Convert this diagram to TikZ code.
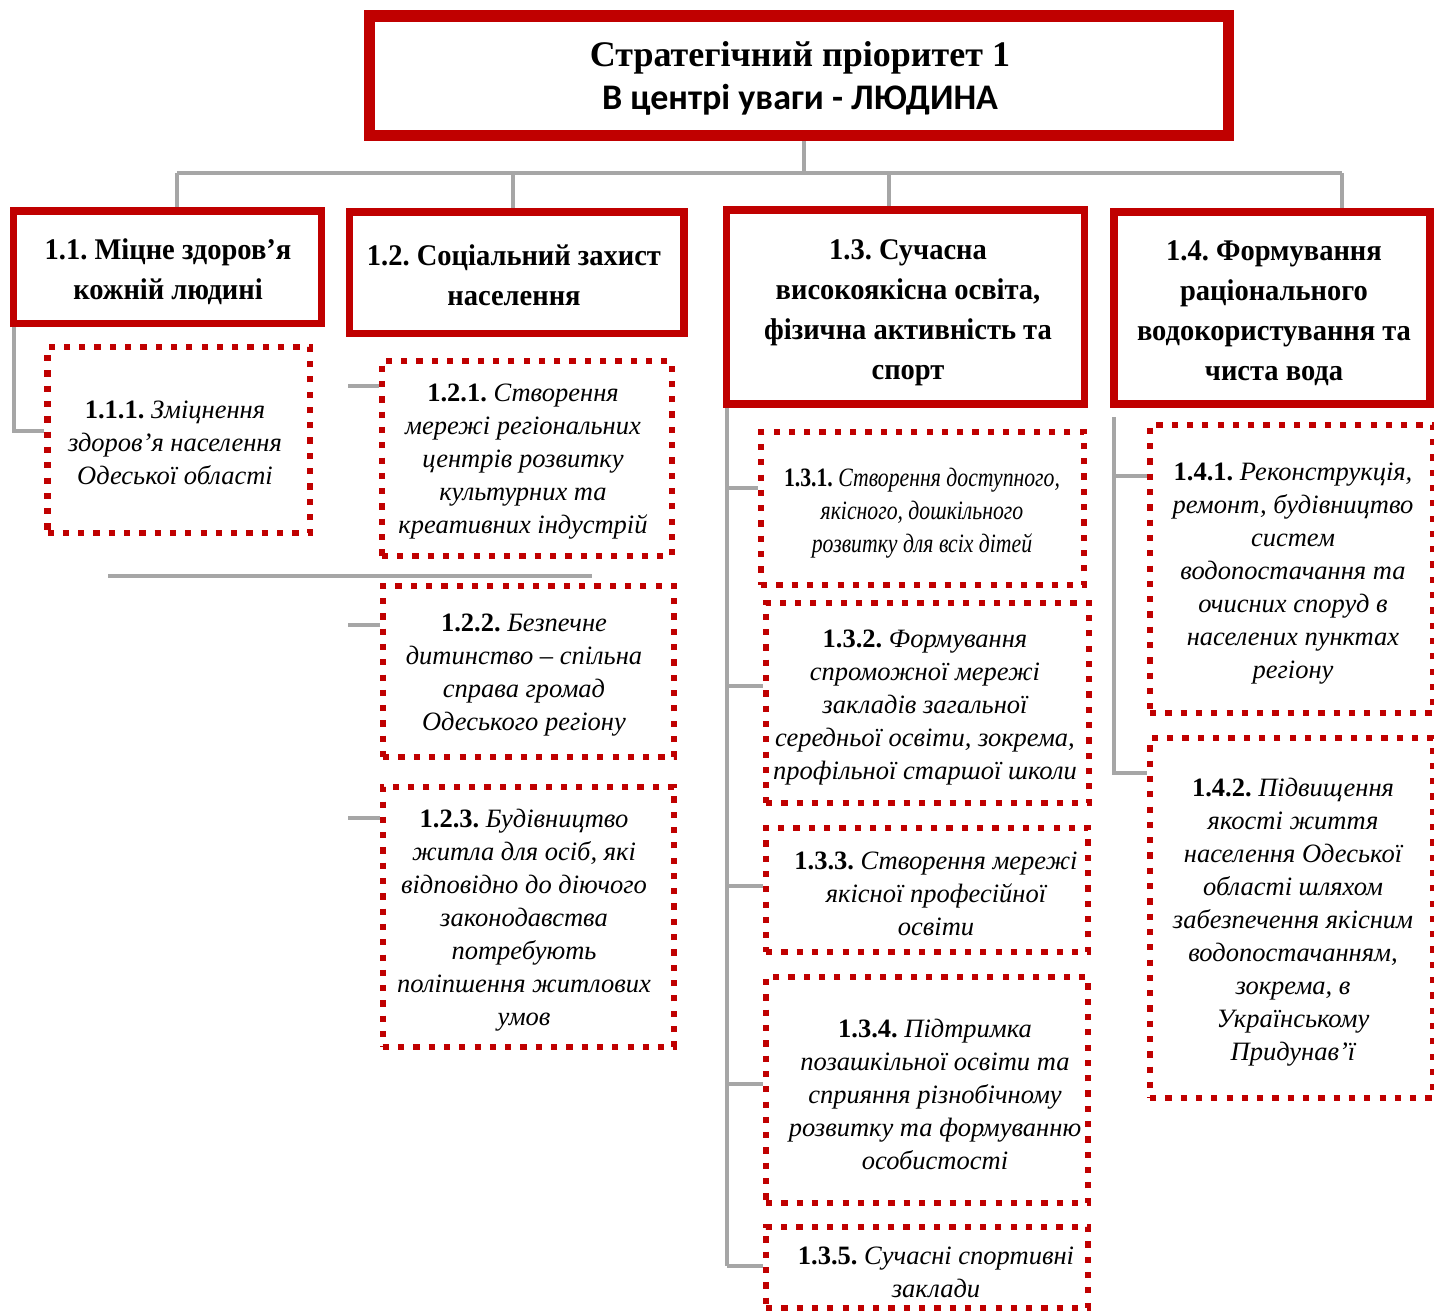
\documentclass[tikz,border=0pt]{standalone}
\usepackage{fontspec}
\setmainfont{Liberation Serif}
\newfontfamily\titlesans{Carlito}
\newfontfamily\headserif[FakeStretch=0.95]{Liberation Serif}
\newfontfamily\condserif[FakeStretch=0.82]{Liberation Serif}
\definecolor{dred}{HTML}{C00000}
\definecolor{lgray}{HTML}{A6A6A6}
\newcommand\nm[1]{{\upshape\bfseries #1}}
\frenchspacing
\begin{document}
\begin{tikzpicture}[x=1pt,y=-1pt,
  hbox/.style={draw=dred, line width=7.5pt, inner sep=0pt},
  topbox/.style={draw=dred, line width=11.5pt, inner sep=0pt},
  dbox/.style={draw=dred, line width=6.2pt, dash pattern=on 6.2pt off 9.1pt, inner sep=0pt},
  conn/.style={draw=lgray, line width=3.5pt},
  htxt/.style={align=center, font=\headserif\bfseries\fontsize{30}{40}\selectfont\frenchspacing, inner sep=0pt},
  dtxt/.style={align=center, font=\itshape\fontsize{26.5}{33}\selectfont\frenchspacing, inner sep=0pt}]
\useasboundingbox (0,0) rectangle (1434,1312);

% heading boxes
\node[topbox, minimum width=859pt, minimum height=119.5pt] (top) at (799,75.75) {};
\node[hbox, minimum width=308pt, minimum height=112.5pt] (b11) at (167.5,267.25) {};
\node[hbox, minimum width=334.5pt, minimum height=121.5pt] (b12) at (516.75,272.75) {};
\node[hbox, minimum width=358pt, minimum height=194pt] (b13) at (905.5,307) {};
\node[hbox, minimum width=316pt, minimum height=192pt] (b14) at (1272,308) {};

% dotted boxes
\node[dbox, minimum width=262.5pt, minimum height=186pt] (b111) at (178.75,440) {};
\node[dbox, minimum width=290pt, minimum height=195.3pt] (b121) at (526.7,458.35) {};
\node[dbox, minimum width=291pt, minimum height=171pt] (b122) at (528.5,671.5) {};
\node[dbox, minimum width=291.3pt, minimum height=259.7pt] (b123) at (528.35,916.85) {};
\node[dbox, minimum width=323pt, minimum height=153pt] (b131) at (922.5,508.5) {};
\node[dbox, minimum width=323pt, minimum height=200pt] (b132) at (927.5,703) {};
\node[dbox, minimum width=322pt, minimum height=124pt] (b133) at (927,890) {};
\node[dbox, minimum width=322pt, minimum height=226pt] (b134) at (927,1090) {};
\node[dbox, minimum width=322pt, minimum height=81pt] (b135) at (927,1267.5) {};
\node[dbox, minimum width=283pt, minimum height=288pt] (b141) at (1291.5,569) {};
\node[dbox, minimum width=283pt, minimum height=360pt] (b142) at (1291.5,918) {};

% texts
\node[align=center, inner sep=0pt] (ttop) at (800,78)
  {{\bfseries\fontsize{36}{43}\selectfont Стратегічний пріоритет 1}\\[9pt]
   {\titlesans\bfseries\fontsize{36}{41}\selectfont В центрі уваги - ЛЮДИНА}};
\node[htxt] (t11) at (168,272) {1.1. Міцне здоров’я\\кожній людині};
\node[htxt] (t12) at (514,275) {1.2. Соціальний захист\\населення};
\node[htxt] (t13) at (908,313) {1.3. Сучасна\\високоякісна освіта,\\фізична активність та\\спорт};
\node[htxt] (t14) at (1274,313) {1.4. Формування\\раціонального\\водокористування та\\чиста вода};

\node[dtxt] (t111) at (175,443) {\nm{1.1.1.} Зміцнення\\здоров’я населення\\Одеської області};
\node[dtxt] (t121) at (523,462) {\nm{1.2.1.} Створення\\мережі регіональних\\центрів розвитку\\культурних та\\креативних індустрій};
\node[dtxt] (t122) at (524,675) {\nm{1.2.2.} Безпечне\\дитинство – спільна\\справа громад\\Одеського регіону};
\node[dtxt] (t123) at (524,920) {\nm{1.2.3.} Будівництво\\житла для осіб, які\\відповідно до діючого\\законодавства\\потребують\\поліпшення житлових\\умов};
\node[dtxt, font=\condserif\itshape\fontsize{26.5}{33}\selectfont\frenchspacing] (t131) at (922,513) {{\condserif\upshape\bfseries 1.3.1.} Створення доступного,\\якісного, дошкільного\\розвитку для всіх дітей};
\node[dtxt] (t132) at (925,708) {\nm{1.3.2.} Формування\\спроможної мережі\\закладів загальної\\середньої освіти, зокрема,\\профільної старшої школи};
\node[dtxt] (t133) at (936,894) {\nm{1.3.3.} Створення мережі\\якісної професійної\\освіти};
\node[dtxt] (t134) at (935,1094) {\nm{1.3.4.} Підтримка\\позашкільної освіти та\\сприяння різнобічному\\розвитку та формуванню\\особистості};
\node[dtxt] (t135) at (936,1272) {\nm{1.3.5.} Сучасні спортивні\\заклади};
\node[dtxt] (t141) at (1293,574) {\nm{1.4.1.} Реконструкція,\\ремонт, будівництво\\систем\\водопостачання та\\очисних споруд в\\населених пунктах\\регіону};
\node[dtxt] (t142) at (1293,922) {\nm{1.4.2.} Підвищення\\якості життя\\населення Одеської\\області шляхом\\забезпечення якісним\\водопостачанням,\\зокрема, в\\Українському\\Придунав’ї};

% connectors
\coordinate (tb) at (804,173);
\coordinate (d1) at (177,173);
\coordinate (d2) at (513,173);
\coordinate (d3) at (889,173);
\coordinate (d4) at (1342,173);
\draw[conn] (tb |- top.south) -- (tb);
\draw[conn] (d1) -- (d4);
\draw[conn] (d1) -- (d1 |- b11.north);
\draw[conn] (d2) -- (d2 |- b12.north);
\draw[conn] (d3) -- (d3 |- b13.north);
\draw[conn] (d4) -- (d4 |- b14.north);

\coordinate (e11) at (14,431);
\draw[conn] (e11 |- b11.south) -- (e11) -- (e11 -| b111.west);

\coordinate (s121) at (348,386);
\coordinate (s122) at (348,625);
\coordinate (s123) at (348,818);
\draw[conn] (s121) -- (s121 -| b121.west);
\draw[conn] (s122) -- (s122 -| b122.west);
\draw[conn] (s123) -- (s123 -| b123.west);
\coordinate (hl1) at (108,576);
\coordinate (hl2) at (592,576);
\draw[conn] (hl1) -- (hl2);

\coordinate (v13) at (727,1266);
\draw[conn] (v13 |- b13.south) -- (v13);
\coordinate (s131) at (727,488);
\coordinate (s132) at (727,686);
\coordinate (s133) at (727,886);
\coordinate (s134) at (727,1084);
\draw[conn] (s131) -- (s131 -| b131.west);
\draw[conn] (s132) -- (s132 -| b132.west);
\draw[conn] (s133) -- (s133 -| b133.west);
\draw[conn] (s134) -- (s134 -| b134.west);
\draw[conn] (v13) -- (v13 -| b135.west);

\coordinate (v14a) at (1114,417);
\coordinate (v14b) at (1114,773);
\coordinate (s141) at (1114,476);
\draw[conn] (v14a) -- (v14b) -- (v14b -| b142.west);
\draw[conn] (s141) -- (s141 -| b141.west);
\end{tikzpicture}
\end{document}
